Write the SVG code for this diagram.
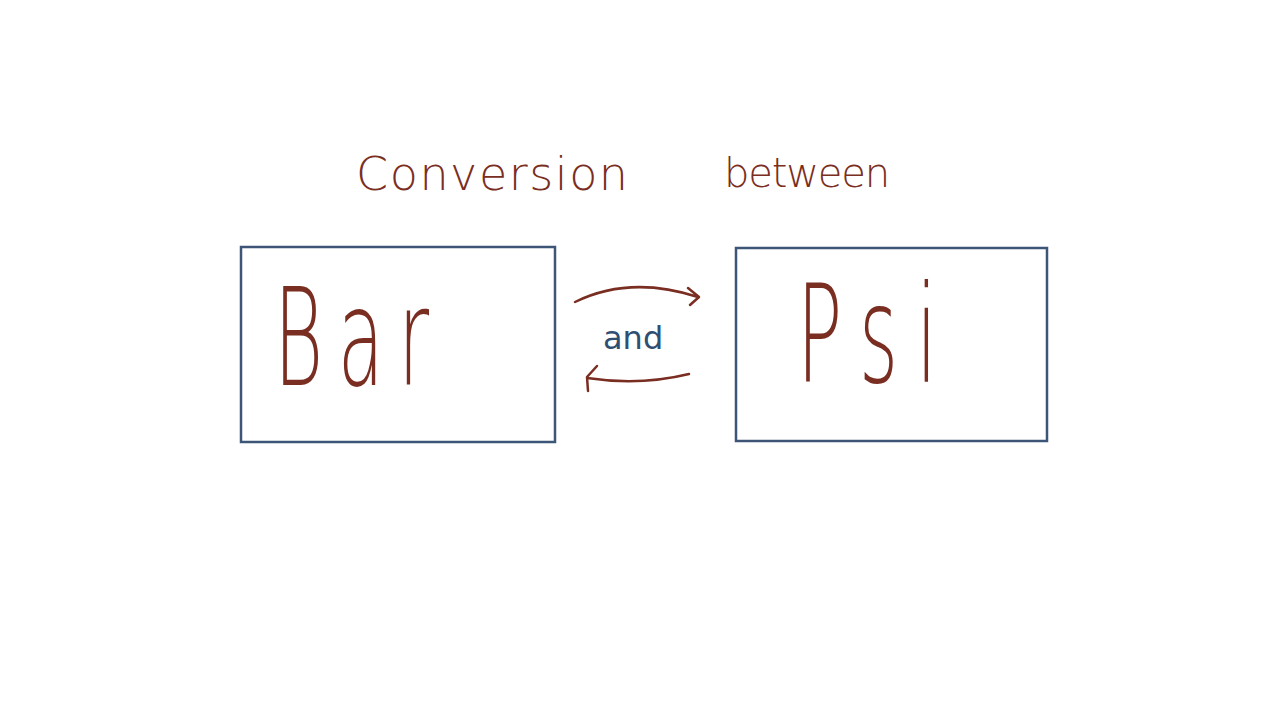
<svg xmlns="http://www.w3.org/2000/svg" width="1280" height="720" viewBox="0 0 1280 720">
<style>
.box{fill:none;stroke:#3d5677;stroke-width:2.5}
.t{font-family:"DejaVu Sans",sans-serif;font-weight:200;fill:#7a2e22}
.c{fill:none;stroke:#7a2e22;stroke-width:2.5;stroke-linecap:round;stroke-linejoin:round}
</style>
<rect width="1280" height="720" fill="#fff"/>
<g id="title"><text class="t" x="356" y="190" font-size="46" textLength="272" lengthAdjust="spacing">Conversion</text>
<text class="t" x="724" y="187" font-size="40" textLength="166" lengthAdjust="spacing">between</text></g>
<g id="bar"><rect class="box" x="241" y="247" width="314" height="195"/>
<text class="t" font-size="75" textLength="155" lengthAdjust="spacing" transform="translate(274 385) scale(1 1.8)">Bar</text></g>
<g id="psi"><rect class="box" x="736" y="248" width="311" height="193"/>
<text class="t" font-size="75" textLength="140" lengthAdjust="spacing" transform="translate(797 382) scale(1 1.8)">Psi</text></g>
<g id="connectors">
<path class="c" d="M575 302 Q630 275 698 297 M688 288 L699 297 L690 305"/>
<path class="c" d="M689 374 Q640 386 587 378 M597 366 L587 377 L588 391"/>
</g>
<g id="label"><text x="603" y="349" font-family="DejaVu Sans,sans-serif" font-size="32" fill="#2f4f72">and</text></g>
</svg>
